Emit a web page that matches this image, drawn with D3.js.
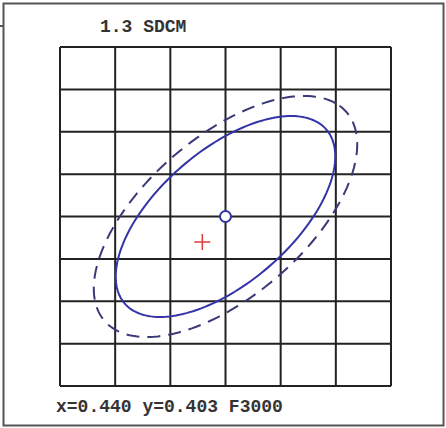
<!DOCTYPE html>
<html>
<head>
<meta charset="utf-8">
<script src="https://cdn.jsdelivr.net/npm/d3@7"></script>
<style>
  body { margin: 0; background: #fff; }
  text { font-family: 'Liberation Mono', 'Courier New', monospace; font-weight: bold; fill: #333; }
</style>
</head>
<body>
<svg class="chart" width="446" height="428"></svg>
<script>
// chromaticity grid (CIE 1931 x, y)
const xTicks = [0.425, 0.430, 0.435, 0.440, 0.445, 0.450, 0.455]
const yTicks = [0.383, 0.388, 0.393, 0.398, 0.403, 0.408, 0.413, 0.418, 0.423]

// target F3000 and its MacAdam ellipse (per step)
const center = { x: 0.440, y: 0.403 }
const ellipseAxes = { a: 0.00278, b: 0.00136, angle: 53.2 }
const ellipseSteps = [5, 6]
const ellipseStyles = ['solid', 'dashed']

// measured point
const measured = { x: 0.4379, y: 0.4000 }
const title = '1.3 SDCM'
const footer = 'x=0.440 y=0.403 F3000'

const svg = d3.select('svg.chart')

svg.append('rect')
  .attr('x', 3.5).attr('y', 3.5)
  .attr('width', 440).attr('height', 422)
  .attr('fill', 'none')
  .attr('stroke', '#555')
  .attr('stroke-width', 2)

svg.append('line')
  .attr('x1', 0).attr('x2', 3).attr('y1', 26).attr('y2', 26)
  .attr('stroke', '#555').attr('stroke-width', 2)

const x = d3.scaleLinear().domain([xTicks[0], xTicks[xTicks.length - 1]]).range([60, 391])
const y = d3.scaleLinear().domain([yTicks[0], yTicks[yTicks.length - 1]]).range([386, 47])

const g = svg.append('g')

g.selectAll('.vline')
  .data(xTicks)
  .enter().append('line')
  .attr('class', 'vline')
  .attr('x1', d => x(d)).attr('x2', d => x(d))
  .attr('y1', y.range()[0]).attr('y2', y.range()[1])
  .attr('stroke', '#222').attr('stroke-width', 2)

g.selectAll('.hline')
  .data(yTicks)
  .enter().append('line')
  .attr('class', 'hline')
  .attr('y1', d => y(d)).attr('y2', d => y(d))
  .attr('x1', x.range()[0]).attr('x2', x.range()[1])
  .attr('stroke', '#222').attr('stroke-width', 2)

// ellipse outline in data space, mapped through the scales
function ellipsePoints (steps) {
  const a = ellipseAxes.a * steps
  const b = ellipseAxes.b * steps
  const phi = ellipseAxes.angle * Math.PI / 180
  return d3.range(0, 361, 2).map(deg => {
    const t = deg * Math.PI / 180
    return [
      center.x + a * Math.cos(t) * Math.cos(phi) - b * Math.sin(t) * Math.sin(phi),
      center.y + a * Math.cos(t) * Math.sin(phi) + b * Math.sin(t) * Math.cos(phi)
    ]
  })
}

const line = d3.line().x(d => x(d[0])).y(d => y(d[1])).curve(d3.curveLinearClosed)

g.selectAll('.ellipse')
  .data(ellipseSteps)
  .enter().append('path')
  .attr('class', 'ellipse')
  .attr('d', d => line(ellipsePoints(d)))
  .attr('fill', 'none')
  .attr('stroke', (d, i) => ellipseStyles[i] === 'dashed' ? '#3a3a78' : '#3434a8')
  .attr('stroke-width', 2)
  .attr('stroke-dasharray', (d, i) => ellipseStyles[i] === 'dashed' ? '13,8' : null)

g.append('circle')
  .attr('cx', x(center.x)).attr('cy', y(center.y))
  .attr('r', 5.5)
  .attr('fill', '#fff')
  .attr('stroke', '#3434a8')
  .attr('stroke-width', 2)

const mx = x(measured.x)
const my = y(measured.y)
g.append('path')
  .attr('d', `M${mx - 8},${my}H${mx + 8}M${mx},${my - 8}V${my + 8}`)
  .attr('stroke', '#e03a3a')
  .attr('stroke-width', 1.5)

svg.append('text')
  .attr('x', 100).attr('y', 32)
  .attr('font-size', 18)
  .text(title)

svg.append('text')
  .attr('x', 56).attr('y', 412)
  .attr('font-size', 18)
  .text(footer)
</script>
</body>
</html>
